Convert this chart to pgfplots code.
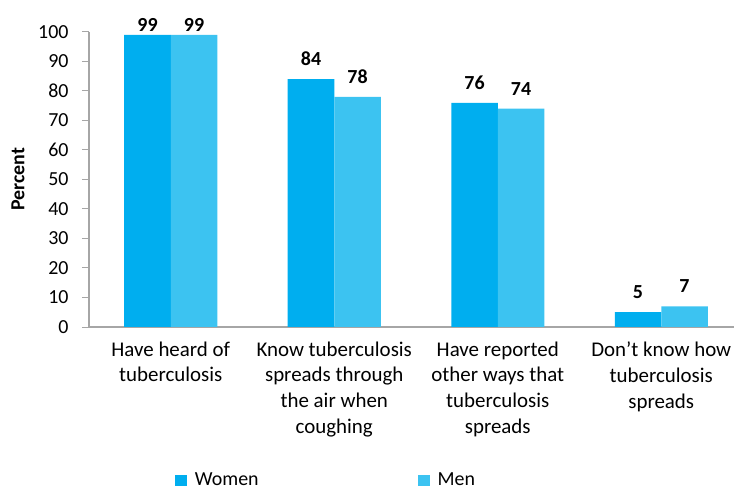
\documentclass[border=0pt]{standalone}
\usepackage{fontspec}
\setmainfont{Carlito}
\usepackage{pgfplots}
\pgfplotsset{compat=1.18}

\definecolor{women}{HTML}{00AEEF}
\definecolor{men}{HTML}{3CC3F1}
\definecolor{axisgray}{HTML}{A6A6A6}

\begin{document}
\begin{tikzpicture}
\useasboundingbox (0bp,0bp) rectangle (734bp,490bp);
\begin{axis}[
  at={(89bp,163bp)}, anchor=south west,
  scale only axis, width=645bp, height=295bp,
  ymin=0, ymax=100, ytick={0,10,...,100},
  xmin=-0.5, xmax=3.445,
  xtick={0,1,2,3},
  xticklabels={
    {Have heard of\\tuberculosis},
    {Know tuberculosis\\spreads through\\the air when\\coughing},
    {Have reported\\other ways that\\tuberculosis\\spreads},
    {Don’t know how\\tuberculosis\\spreads}},
  ybar=0pt, bar width=46.5bp,
  axis x line*=bottom, axis y line*=left,
  axis line style={axisgray, line width=1.3bp, -},
  xtick style={draw=none},
  ytick style={axisgray, line width=1bp},
  tick align=outside, major tick length=7bp,
  /pgf/number format/assume math mode=true,
  yticklabel style={font=\fontsize{20}{24}\selectfont, black, xshift=-10bp},
  xticklabel style={font=\fontsize{21}{26}\selectfont, black, align=center, yshift=-4bp},
  ylabel={\textbf{Percent}},
  ylabel style={font=\fontsize{20}{24}\selectfont, at={(axis description cs:-0.11,0.5)}, anchor=center},
  % value labels: the ones at the very top sit closer to their bars
  visualization depends on=y \as \rawy,
  nodes near coords,
  every node near coord/.append style={font=\bfseries\fontsize{20}{24}\selectfont, black,
    yshift={ifthenelse(\rawy>98,0,10)}},
  legend columns=2,
  legend style={draw=none, at={(axis description cs:0.133,-0.519)}, anchor=west,
    font=\fontsize{20}{24}\selectfont, inner sep=0pt,
    /tikz/every even column/.append style={column sep=157bp}},
  legend image code/.code={\fill[#1, draw=none] (0bp,-5.5bp) rectangle (12bp,5.5bp); \path (18bp,0bp);},
]
\addplot[fill=women, draw=none] coordinates {(0,99) (1,84) (2,76) (3,5)};
\addplot[fill=men, draw=none] coordinates {(0,99) (1,78) (2,74) (3,7)};
\legend{Women, Men}
\end{axis}
\end{tikzpicture}
\end{document}
